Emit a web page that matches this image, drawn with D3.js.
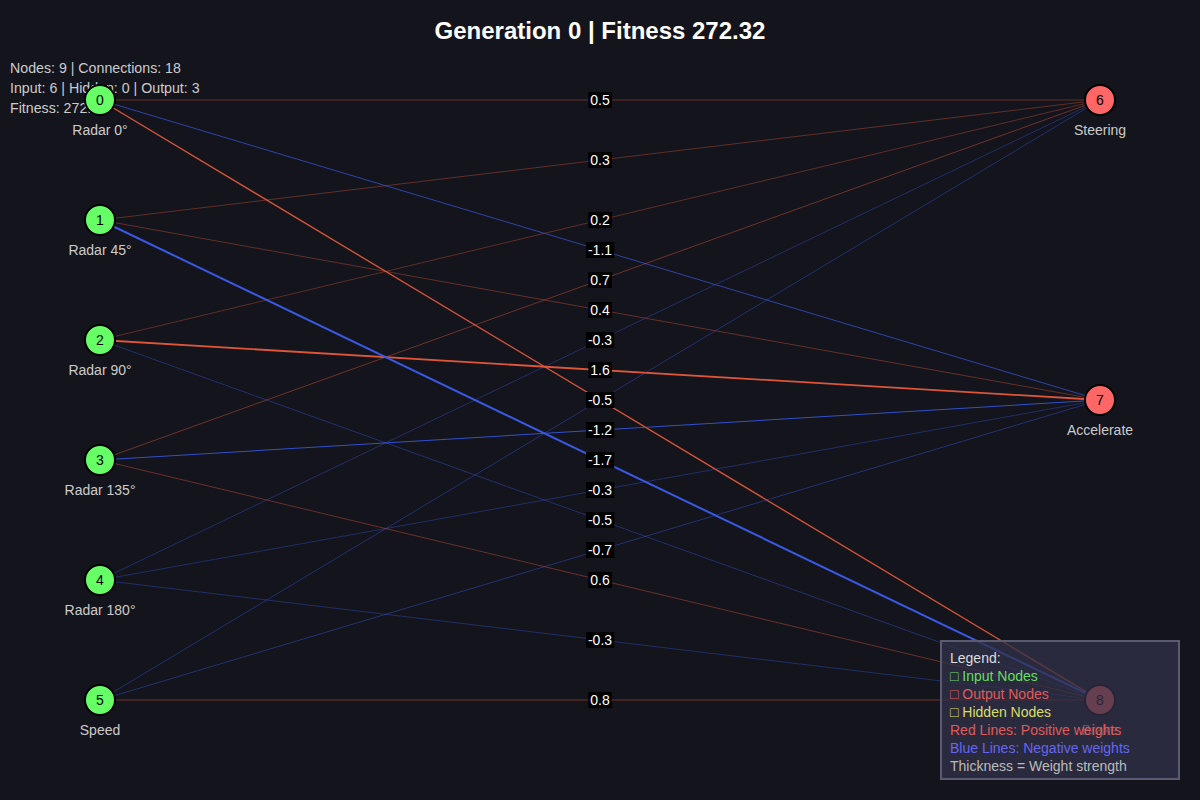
<!DOCTYPE html>
<html><head><meta charset="utf-8">
<script src="https://cdn.jsdelivr.net/npm/d3@7"></script>
<style>body{margin:0;background:#13141c;}svg{display:block;font-family:"Liberation Sans",Arial,sans-serif;}</style>
</head><body><svg id="c" width="1200" height="800"></svg>
<script>
var inputNodes = [0,1,2,3,4,5];
var inputLabels = ["Radar 0°","Radar 45°","Radar 90°","Radar 135°","Radar 180°","Speed"];
var outputNodes = [6,7,8];
var outputLabels = ["Steering","Accelerate","Brake"];
// [from, to, weight]
var connections = [
  [0,6,0.5],[1,6,0.3],[2,6,0.2],[0,7,-1.1],[3,6,0.7],[1,7,0.4],[4,6,-0.3],
  [2,7,1.6],[0,8,1.4],[5,6,-0.5],[3,7,-1.2],[1,8,-1.7],[4,7,-0.3],[2,8,-0.5],
  [5,7,-0.7],[3,8,0.6],[4,8,-0.3],[5,8,0.8]
];
var statsLines = ["Nodes: 9 | Connections: 18","Input: 6 | Hidden: 0 | Output: 3","Fitness: 272.32"];
var legendLines = [
  ["Legend:","#dddddd"],["\u25A1 Input Nodes","#66dd66"],["\u25A1 Output Nodes","#e05a5a"],
  ["\u25A1 Hidden Nodes","#dddd66"],["Red Lines: Positive weights","#e05a5a"],
  ["Blue Lines: Negative weights","#6666ee"],["Thickness = Weight strength","#bbbbbb"]
];

var svg = d3.select("#c");
var yIn = d3.scalePoint().domain(inputNodes).range([100,700]);
var yOut = d3.scalePoint().domain(outputNodes).range([100,700]);
function pos(id){
  return inputNodes.indexOf(id) >= 0 ? {x:100,y:yIn(id)} : {x:1100,y:yOut(id)};
}

svg.append("text").attr("x",600).attr("y",39).attr("text-anchor","middle")
  .attr("fill","#fff").attr("font-size",24).attr("font-weight","bold")
  .text("Generation 0 | Fitness 272.32");

svg.selectAll(".stat").data(statsLines).enter().append("text")
  .attr("x",10).attr("y",function(d,i){return 73+i*20;})
  .attr("fill","#cccccc").attr("font-size",14.2).text(function(d){return d;});

var g = svg.append("g");
connections.forEach(function(c){
  var a = pos(c[0]), b = pos(c[1]), w = c[2], s = Math.abs(w);
  g.append("line").attr("x1",a.x).attr("y1",a.y).attr("x2",b.x).attr("y2",b.y)
    .attr("stroke", w > 0 ? "#e85a3a" : "#3a5ae8")
    .attr("stroke-width", Math.max(0.6, s*s*0.7))
    .attr("stroke-opacity", Math.min(1, 0.55 + s*0.25));
});
connections.forEach(function(c){
  var a = pos(c[0]), b = pos(c[1]);
  var mx = (a.x+b.x)/2, my = (a.y+b.y)/2;
  var t = g.append("text").attr("x",mx).attr("y",my+5).attr("text-anchor","middle")
    .attr("fill","#fff").attr("font-size",14).text(c[2].toFixed(1));
  var bb = t.node().getBBox();
  g.insert("rect", function(){return t.node();})
    .attr("x",bb.x-2).attr("y",bb.y).attr("width",bb.width+4).attr("height",bb.height).attr("fill","#000");
});

var all = inputNodes.map(function(d,i){return {id:d,label:inputLabels[i],fill:"#66ff66"};})
  .concat(outputNodes.map(function(d,i){return {id:d,label:outputLabels[i],fill:"#ff6666"};}));
var ng = svg.selectAll(".node").data(all).enter().append("g")
  .attr("transform",function(d){var p=pos(d.id);return "translate("+p.x+","+p.y+")";});
ng.append("circle").attr("r",15).attr("fill",function(d){return d.fill;})
  .attr("stroke","#000").attr("stroke-width",2);
ng.append("text").attr("y",5).attr("text-anchor","middle").attr("font-size",14)
  .attr("fill","#000").text(function(d){return d.id;});
ng.append("text").attr("y",35).attr("text-anchor","middle").attr("font-size",14)
  .attr("fill","#cccccc").text(function(d){return d.label;});

var lg = svg.append("g").attr("transform","translate(941,641)");
lg.append("rect").attr("width",238).attr("height",138).attr("fill","#323248").attr("fill-opacity",0.75)
  .attr("stroke","#5a5a70").attr("stroke-width",2);
lg.selectAll("text").data(legendLines).enter().append("text")
  .attr("x",9).attr("y",function(d,i){return 22+i*18;}).attr("font-size",14)
  .attr("fill",function(d){return d[1];}).text(function(d){return d[0];});
</script></body></html>
